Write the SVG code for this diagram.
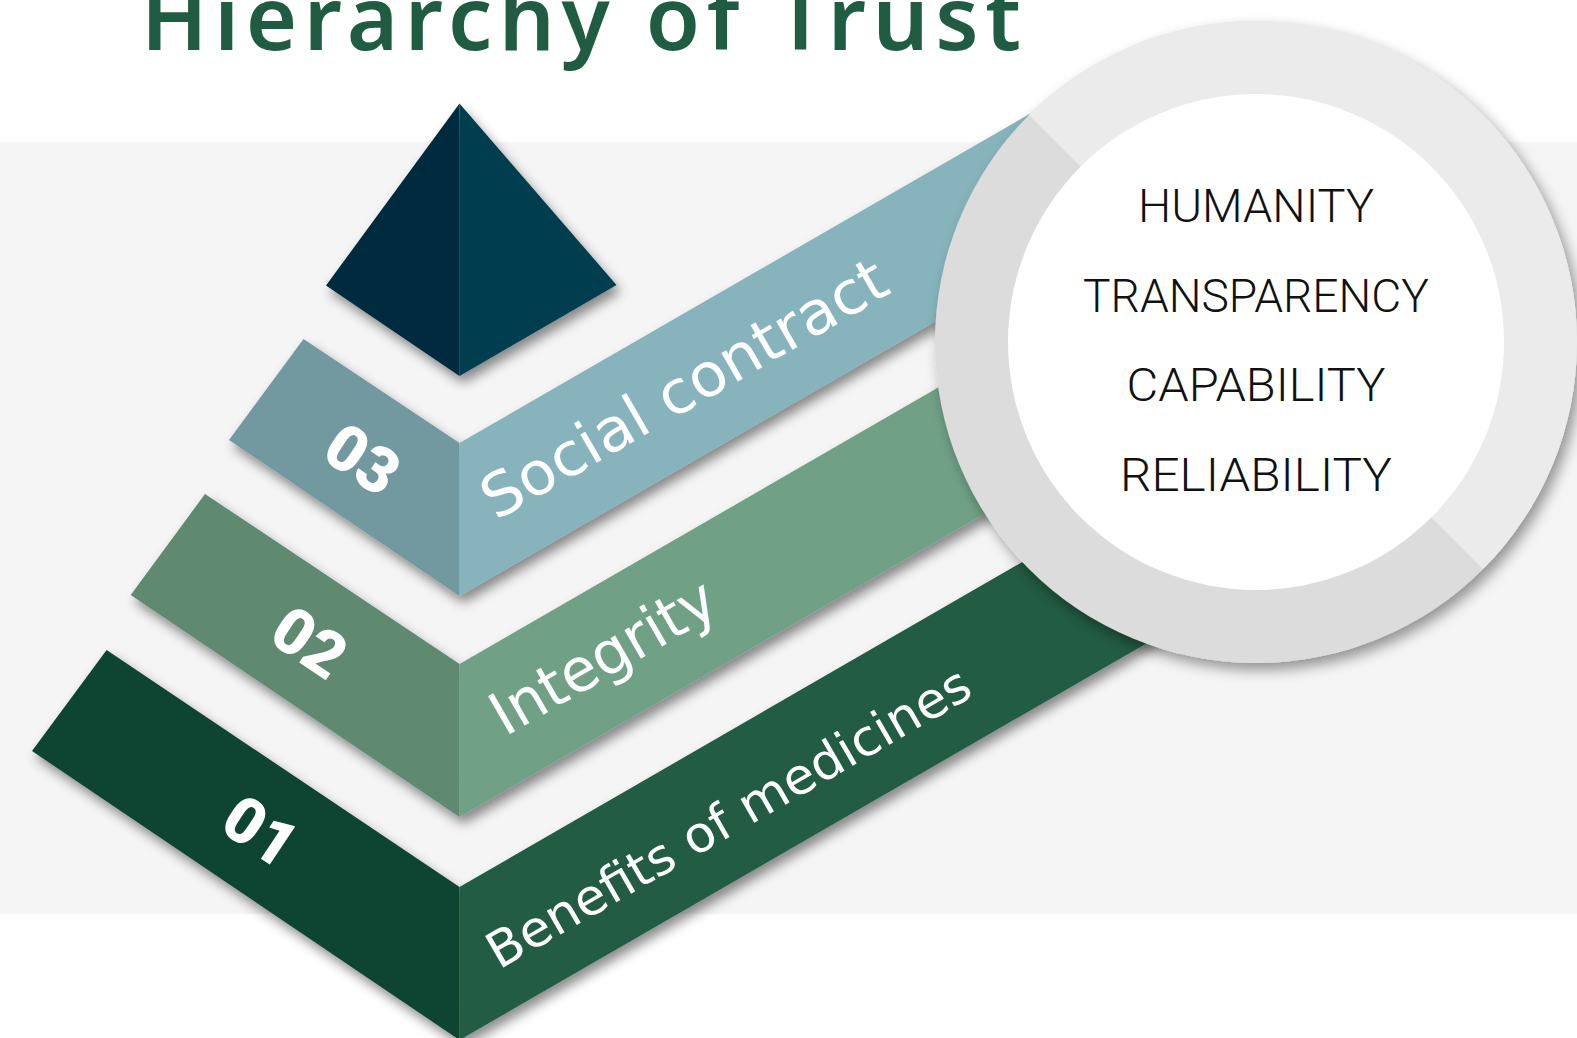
<svg xmlns="http://www.w3.org/2000/svg" width="1577" height="1038" viewBox="0 0 1577 1038">
  <defs>
    <filter id="shadow" x="-20%" y="-20%" width="140%" height="140%">
      <feDropShadow dx="4" dy="7" stdDeviation="6" flood-color="#000" flood-opacity="0.45"/>
    </filter>
    <filter id="ringShadow" x="-20%" y="-20%" width="140%" height="140%">
      <feDropShadow dx="5" dy="7" stdDeviation="7" flood-color="#000" flood-opacity="0.4"/>
    </filter>
    <style>
      .title { font-family: "Noto Sans", "Open Sans", sans-serif; font-weight: 600; font-size: 88px; fill: #1f5c41; }
      .num { font-family: Roboto, "Liberation Sans", sans-serif; font-weight: 900; font-size: 64px; fill: #ffffff; font-variant-numeric: lining-nums; }
      .label { font-family: "DejaVu Sans", "Open Sans", sans-serif; font-weight: 400; fill: #ffffff; }
      .value { font-family: Roboto, "Liberation Sans", sans-serif; font-weight: 300; font-size: 46px; fill: #111111; }
    </style>
  </defs>

  <!-- page -->
  <rect x="0" y="0" width="1577" height="1038" fill="#ffffff"/>
  <rect x="0" y="142" width="1577" height="772" fill="#f5f5f5"/>

  <text class="title" x="141" y="50" textLength="880" lengthAdjust="spacing">Hierarchy of Trust</text>

  <!-- tier 01 -->
  <g id="tier-01" filter="url(#shadow)">
    <polygon points="106.6,650 32,751 459.5,1040 459.5,887" fill="#0f4530"/>
    <polygon points="459.5,887 1180,471 1180,624 459.5,1040" fill="#215b42"/>
    <text class="num" transform="translate(260,832) rotate(33.7)" text-anchor="middle" dominant-baseline="central">01</text>
    <text class="label" font-size="50" transform="translate(499,970) rotate(-30)" textLength="550" lengthAdjust="spacingAndGlyphs">Benefits of medicines</text>
  </g>

  <!-- tier 02 -->
  <g id="tier-02" filter="url(#shadow)">
    <polygon points="205,494 130.7,595 459.5,817 459.5,664" fill="#5e8a71"/>
    <polygon points="459.5,664 1150,265.3 1150,418.3 459.5,817" fill="#70a187"/>
    <text class="num" transform="translate(309,643) rotate(33.7)" text-anchor="middle" dominant-baseline="central">02</text>
    <text class="label" font-size="60" transform="translate(505,737) rotate(-30)" textLength="250" lengthAdjust="spacingAndGlyphs">Integrity</text>
  </g>

  <!-- tier 03 -->
  <g id="tier-03" filter="url(#shadow)">
    <polygon points="303.5,339 229,440 459.5,596 459.5,443" fill="#72999f"/>
    <polygon points="459.5,443 1100,73.2 1100,226.2 459.5,596" fill="#87b4bc"/>
    <text class="num" transform="translate(362,460) rotate(33.7)" text-anchor="middle" dominant-baseline="central">03</text>
    <text class="label" font-size="60" transform="translate(496,521) rotate(-30)" textLength="458" lengthAdjust="spacingAndGlyphs">Social contract</text>
  </g>

  <!-- apex -->
  <g id="apex" filter="url(#shadow)">
    <polygon points="459.5,103.5 326,285.5 459.5,376" fill="#012a3c"/>
    <polygon points="459.5,103.5 616.5,285 459.5,376" fill="#033d4f"/>
  </g>

  <!-- values ring -->
  <g id="values">
    <circle cx="1256" cy="342" r="321" fill="#dcdcdc" filter="url(#ringShadow)"/>
    <path d="M1029,115 A321,321 0 0 1 1483,569 Z" fill="#ebebeb"/>
    <circle cx="1256" cy="342" r="248" fill="#ffffff"/>
    <text class="value" x="1256" y="222" text-anchor="middle" textLength="236" lengthAdjust="spacingAndGlyphs">HUMANITY</text>
    <text class="value" x="1256" y="312" text-anchor="middle" textLength="346" lengthAdjust="spacingAndGlyphs">TRANSPARENCY</text>
    <text class="value" x="1256" y="401" text-anchor="middle" textLength="259" lengthAdjust="spacingAndGlyphs">CAPABILITY</text>
    <text class="value" x="1256" y="491" text-anchor="middle" textLength="272" lengthAdjust="spacingAndGlyphs">RELIABILITY</text>
  </g>
</svg>
